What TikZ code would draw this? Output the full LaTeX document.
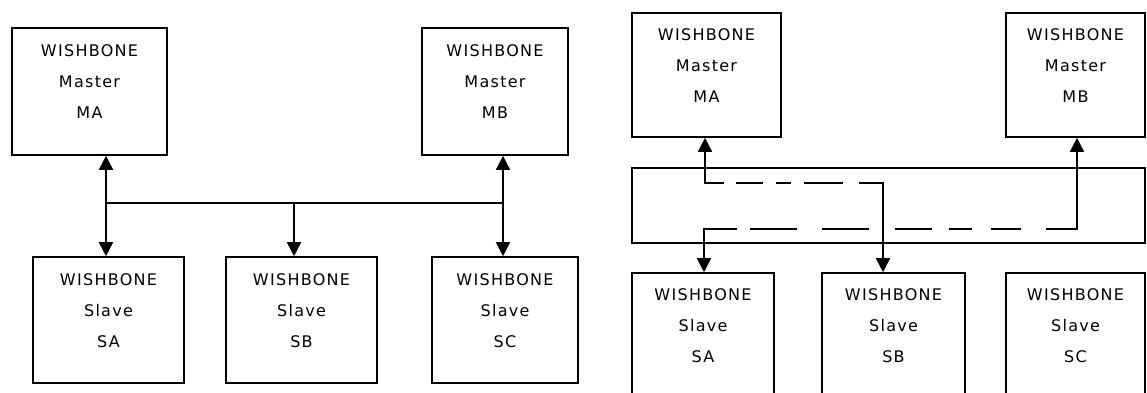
\documentclass[tikz,border=0pt]{standalone}
\usepackage{fontspec}
\setmainfont{DejaVu Sans}[LetterSpace=8]
\usetikzlibrary{arrows.meta}
\tikzset{
  blk/.style={draw, line width=1.6pt, align=center, font=\fontsize{16}{31}\selectfont, text depth=19pt, inner sep=0pt},
  conn/.style={line width=1.6pt, line cap=rect},
  tip/.style={-{Triangle[length=14pt,width=14pt]}},
  tips/.style={{Triangle[length=14pt,width=14pt]}-{Triangle[length=14pt,width=14pt]}}
}
\begin{document}
\begin{tikzpicture}[x=1pt,y=-1pt]
\useasboundingbox (0,0) rectangle (1147,392);
\clip (0,0) rectangle (1147,392);
% ---------- left: shared bus ----------
\node[blk, minimum width=155pt, minimum height=127pt] (lMA) at (89.5,91.5) {WISHBONE\\Master\\MA};
\node[blk, minimum width=146pt, minimum height=127pt] (lMB) at (495,91.5) {WISHBONE\\Master\\MB};
\node[blk, minimum width=151pt, minimum height=126pt] (lSA) at (108.5,320) {WISHBONE\\Slave\\SA};
\node[blk, minimum width=151pt, minimum height=126pt] (lSB) at (301.5,320) {WISHBONE\\Slave\\SB};
\node[blk, minimum width=146pt, minimum height=126pt] (lSC) at (505,320) {WISHBONE\\Slave\\SC};
\coordinate (lbusA) at (106,203);
\coordinate (lbusB) at (294,203);
\coordinate (lbusC) at (503,203);
\draw[conn] (lbusA) -- (lbusC);
\draw[conn, tips] (lSA.north -| lbusA) -- (lMA.south -| lbusA);
\draw[conn, tips] (lSC.north -| lbusC) -- (lMB.south -| lbusC);
\draw[conn, tip] (lbusB) -- (lSB.north -| lbusB);
% ---------- right: crossbar ----------
\node[blk, minimum width=149pt, minimum height=124pt] (rMA) at (706.5,75) {WISHBONE\\Master\\MA};
\node[blk, minimum width=139pt, minimum height=124pt] (rMB) at (1075.5,75) {WISHBONE\\Master\\MB};
\node[draw, line width=1.6pt, minimum width=513pt, minimum height=75pt, inner sep=0pt] (xbar) at (888.5,205.5) {};
\node[blk, minimum width=142pt, minimum height=124pt] (rSA) at (703,335) {WISHBONE\\Slave\\SA};
\node[blk, minimum width=143pt, minimum height=124pt] (rSB) at (893.5,335) {WISHBONE\\Slave\\SB};
\node[blk, minimum width=139pt, minimum height=124pt] (rSC) at (1075.5,335) {WISHBONE\\Slave\\SC};
\coordinate (ua) at (705,183);
\coordinate (ub) at (883,183);
\coordinate (la) at (704,229);
\coordinate (lb) at (1077,229);
\draw[conn, tip] (ua) -- (rMA.south -| ua);
\draw[conn, line cap=butt, dash pattern=on 19pt off 12pt on 27pt off 13pt on 15pt off 13pt on 39pt off 16pt on 40pt] (ua) -- (ub);
\draw[conn, tip] (ub) -- (rSB.north -| ub);
\draw[conn, tip] (la) -- (rSA.north -| la);
\draw[conn, line cap=butt, dash pattern=on 33pt off 13pt on 47pt off 25pt on 47pt off 26pt on 37pt off 17pt on 23pt off 19pt on 30pt off 25pt on 40pt] (la) -- (lb);
\draw[conn, tip] (lb) -- (rMB.south -| lb);
\end{tikzpicture}
\end{document}
